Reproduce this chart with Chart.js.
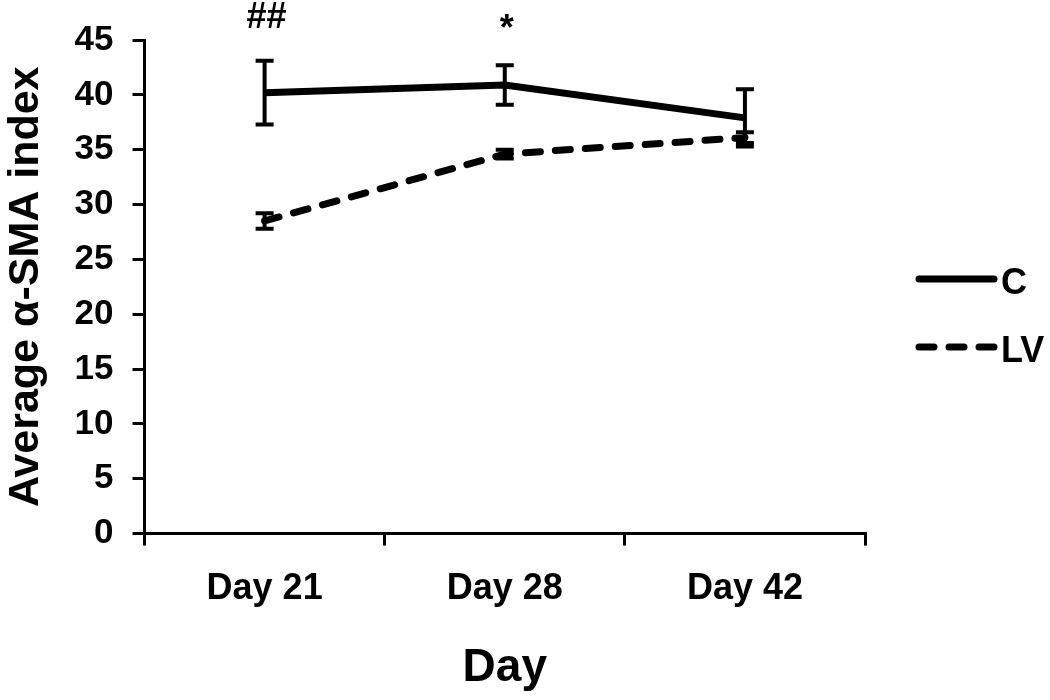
<!DOCTYPE html>
<html lang="en">
<head>
    <meta charset="UTF-8">
    <title>Average alpha-SMA index</title>
    <script src="https://cdn.jsdelivr.net/npm/chart.js"></script>
    <style>
        body { margin: 0; background: #fff; }
        canvas { display: block; }
    </style>
</head>
<body>
    <canvas id="smaChart" width="1050" height="700"></canvas>
    <script>
        // values
        const days = ['Day 21', 'Day 28', 'Day 42'];
        const controlMean = [40.2, 40.9, 37.9];
        const controlErr = [2.9, 1.8, 2.6];
        const lvMean = [28.5, 34.6, 36.1];
        const lvErr = [0.7, 0.4, 0.5];
        const marks = ['##', '*', ''];
        const yTicks = [0, 5, 10, 15, 20, 25, 30, 35, 40, 45];

        const FONT = "'Liberation Sans', Arial, sans-serif";

        // error bars drawn through the chart scales
        const errorBars = {
            id: 'errorBars',
            afterDatasetsDraw(chart) {
                const ctx = chart.ctx;
                const x = chart.scales.x, y = chart.scales.y;
                ctx.save();
                ctx.strokeStyle = '#000';
                ctx.lineWidth = 4;
                chart.data.datasets.forEach(ds => {
                    ds.data.forEach((v, i) => {
                        const px = x.getPixelForValue(i);
                        const top = y.getPixelForValue(v + ds.err[i]);
                        const bot = y.getPixelForValue(v - ds.err[i]);
                        ctx.beginPath();
                        ctx.moveTo(px, top); ctx.lineTo(px, bot);
                        ctx.moveTo(px - 9, top); ctx.lineTo(px + 9, top);
                        ctx.moveTo(px - 9, bot); ctx.lineTo(px + 9, bot);
                        ctx.stroke();
                    });
                });
                ctx.restore();
            }
        };

        // significance marks above each day
        const sigMarks = {
            id: 'sigMarks',
            afterDraw(chart) {
                const ctx = chart.ctx;
                ctx.save();
                ctx.fillStyle = '#000';
                ctx.font = 'bold 36px ' + FONT;
                ctx.textAlign = 'center';
                ctx.textBaseline = 'alphabetic';
                marks.forEach((m, i) => {
                    const px = chart.scales.x.getPixelForValue(i) + 2;
                    ctx.fillText(m, px, m === '*' ? 40 : 28);
                });
                ctx.restore();
            }
        };

        // legend on the right, sample lines use each dataset's style
        const sideLegend = {
            id: 'sideLegend',
            afterDraw(chart) {
                const ctx = chart.ctx;
                const rows = [279, 347];
                ctx.save();
                chart.data.datasets.forEach((ds, i) => {
                    ctx.strokeStyle = ds.borderColor;
                    ctx.lineWidth = ds.borderWidth;
                    ctx.lineCap = 'round';
                    ctx.setLineDash(ds.borderDash || []);
                    ctx.beginPath();
                    ctx.moveTo(919, rows[i]);
                    ctx.lineTo(994, rows[i]);
                    ctx.stroke();
                    ctx.setLineDash([]);
                    ctx.fillStyle = '#000';
                    ctx.font = 'bold 36px ' + FONT;
                    ctx.textBaseline = 'middle';
                    ctx.fillText(ds.label, 1001, rows[i] + 5);
                });
                ctx.restore();
            }
        };

        new Chart(document.getElementById('smaChart'), {
            type: 'line',
            data: {
                labels: days,
                datasets: [
                    {
                        label: 'C',
                        data: controlMean,
                        err: controlErr,
                        borderColor: '#000',
                        borderWidth: 7,
                        pointRadius: 0,
                        tension: 0
                    },
                    {
                        label: 'LV',
                        data: lvMean,
                        err: lvErr,
                        borderColor: '#000',
                        borderWidth: 7,
                        borderDash: [15, 15],
                        borderCapStyle: 'round',
                        pointRadius: 0,
                        tension: 0
                    }
                ]
            },
            options: {
                responsive: false,
                animation: false,
                layout: { padding: { top: 26, right: 185, left: 0, bottom: 4 } },
                plugins: {
                    legend: { display: false },
                    tooltip: { enabled: false }
                },
                scales: {
                    x: {
                        offset: true,
                        grid: {
                            offset: true,
                            drawOnChartArea: false,
                            drawTicks: true,
                            tickLength: 12,
                            color: '#000',
                            lineWidth: 3
                        },
                        border: { color: '#000', width: 3 },
                        ticks: {
                            color: '#000',
                            font: { family: FONT, size: 36, weight: 'bold' },
                            padding: 22,
                            maxRotation: 0
                        },
                        title: {
                            display: true,
                            text: 'Day',
                            color: '#000',
                            font: { family: FONT, size: 46, weight: 'bold' },
                            padding: { top: 8, bottom: 0 }
                        }
                    },
                    y: {
                        min: 0,
                        max: 45,
                        afterBuildTicks(scale) {
                            scale.ticks = yTicks.map(v => ({ value: v }));
                        },
                        grid: {
                            drawOnChartArea: false,
                            drawTicks: true,
                            tickLength: 12,
                            color: '#000',
                            lineWidth: 3
                        },
                        border: { color: '#000', width: 3 },
                        ticks: {
                            color: '#000',
                            font: { family: FONT, size: 35, weight: 'bold' },
                            padding: 19
                        },
                        title: {
                            display: true,
                            text: 'Average \u03b1-SMA index',
                            color: '#000',
                            font: { family: FONT, size: 43, weight: 'bold' },
                            padding: { top: 0, bottom: 4 }
                        }
                    }
                }
            },
            plugins: [errorBars, sigMarks, sideLegend]
        });
    </script>
</body>
</html>
